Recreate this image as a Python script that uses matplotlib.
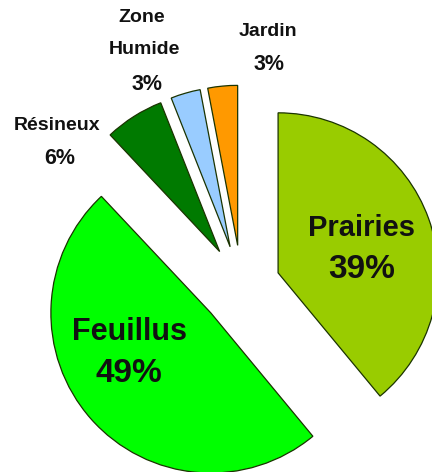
import matplotlib
matplotlib.use("Agg")
import matplotlib.pyplot as plt

# Data
categories = ["Prairies", "Feuillus", "Résineux", "Zone\nHumide", "Jardin"]
values = [39, 49, 6, 3, 3]
pct_labels = ["39%", "49%", "6%", "3%", "3%"]

# Style
colors = ["#99cc00", "#00ff00", "#007a00", "#99ccff", "#ff9900"]
W, H = 432, 472
center = (241.5, H - 286)
radius = 160
explode_frac = [0.243, 0.255, 0.255, 0.255, 0.255]
explode = [f * radius for f in explode_frac]  # pie explode is in data units

# label positions in pixel coordinates (x, y from top): (name, pct)
name_pos = [(362, 228), (129, 332), (57, 126), (144, 34), (268, 31)]
pct_pos = [(362, 269), (129, 373), (60, 159), (147, 84), (269, 65)]
name_size = [21, 22, 14, 14, 14]
pct_size = [24, 24, 15.5, 15.5, 15.5]

plt.rcParams['font.family'] = ['Liberation Sans', 'DejaVu Sans']

fig = plt.figure(figsize=(W / 100, H / 100), dpi=100)
ax = fig.add_axes([0, 0, 1, 1])
ax.pie(values, colors=colors, explode=explode, startangle=90,
       counterclock=False, center=center, radius=radius,
       wedgeprops=dict(edgecolor="#1a3300", linewidth=0.9))
ax.set_xlim(0, W)
ax.set_ylim(0, H)
ax.set_aspect('equal')
ax.set_axis_off()

for i, name in enumerate(categories):
    if name == "Zone\nHumide":
        ax.text(name_pos[i][0] - 2, H - 17, "Zone", ha='center', va='center',
                fontsize=name_size[i], fontweight='bold', color='#111111')
        ax.text(name_pos[i][0], H - 50, "Humide", ha='center', va='center',
                fontsize=name_size[i], fontweight='bold', color='#111111')
    else:
        ax.text(name_pos[i][0], H - name_pos[i][1], name, ha='center', va='center',
                fontsize=name_size[i], fontweight='bold', color='#111111')
    ax.text(pct_pos[i][0], H - pct_pos[i][1], pct_labels[i], ha='center', va='center',
            fontsize=pct_size[i], fontweight='bold', color='#111111')

fig.savefig("out.png", dpi=100)
